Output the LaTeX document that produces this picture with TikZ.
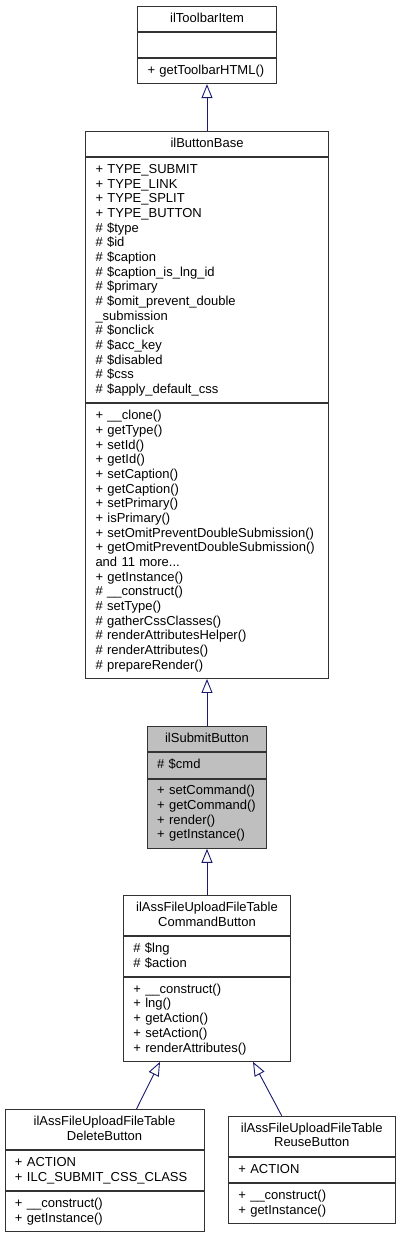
\documentclass[tikz,border=0pt]{standalone}
\usepackage{fontspec}
\setmainfont{Liberation Sans}
\usepackage{tikz}
\usetikzlibrary{positioning}
\usetikzlibrary{arrows.meta}
\usepackage{xcolor}

\definecolor{edgeblue}{HTML}{191970}
\definecolor{hlgray}{HTML}{BFBFBF}
\newcommand{\umlfont}{\fontsize{13pt}{14.67pt}\selectfont}

\begin{document}
\begin{tikzpicture}[x=1pt, y=-1pt]
        % ================= styles =================
        \tikzset{
            % one compartment of a class box
            umlbox/.style={draw=black!80, line width=0.9pt, fill=white, inner xsep=10pt, inner ysep=0pt, font=\umlfont, align=left, text height=9.8pt},
            % compartment with #1 lines of text
            nlines/.style={minimum height={#1*14.67pt+10.7pt}, text depth={(#1-1)*14.67pt+3.2pt}},
            % class name compartment
            classname/.style={umlbox, align=center},
            % highlighted class
            hl/.style={fill=hlgray},
            % inheritance arrow (open triangle)
            inherit/.style={draw=edgeblue, line width=0.9pt, -{Triangle[open, length=14pt, width=11pt]}}
        }

        \useasboundingbox (0,0) rectangle (400,1235);

        % ================= ilToolbarItem =================
        \node[classname, nlines=1, text width=119pt, anchor=north] (toolbar) at (207,5.7) {ilToolbarItem};
        \node[umlbox, minimum height=25pt, text width=119pt, below=0pt of toolbar] (toolbar-a) {};
        \node[umlbox, nlines=1, text width=119pt, below=0pt of toolbar-a] (toolbar-m) {+ getToolbarHTML()};

        % ================= ilButtonBase =================
        \node[classname, nlines=1, text width=223pt, anchor=north] (button) at (207,130.7) {ilButtonBase};
        \node[umlbox, nlines=16, text width=223pt, below=0pt of button] (button-a) {+ TYPE\_SUBMIT\\+ TYPE\_LINK\\+ TYPE\_SPLIT\\+ TYPE\_BUTTON\\\# \$type\\\# \$id\\\# \$caption\\\# \$caption\_is\_lng\_id\\\# \$primary\\\# \$omit\_prevent\_double\\\_submission\\\# \$onclick\\\# \$acc\_key\\\# \$disabled\\\# \$css\\\# \$apply\_default\_css};
        \node[umlbox, nlines=18, text width=223pt, below=0pt of button-a] (button-m) {+ \_\_clone()\\+ getType()\\+ setId()\\+ getId()\\+ setCaption()\\+ getCaption()\\+ setPrimary()\\+ isPrimary()\\+ setOmitPreventDoubleSubmission()\\+ getOmitPreventDoubleSubmission()\\and 11 more...\\+ getInstance()\\\# \_\_construct()\\\# setType()\\\# gatherCssClasses()\\\# renderAttributesHelper()\\\# renderAttributes()\\\# prepareRender()};

        % ================= ilSubmitButton (highlighted) =================
        \node[classname, hl, nlines=1, text width=99.7pt, anchor=north] (submit) at (207,726) {ilSubmitButton};
        \node[umlbox, hl, nlines=1, text width=99.7pt, below=0pt of submit] (submit-a) {\# \$cmd};
        \node[umlbox, hl, nlines=4, text width=99.7pt, below=0pt of submit-a] (submit-m) {+ setCommand()\\+ getCommand()\\+ render()\\+ getInstance()};

        % ================= ilAssFileUploadFileTableCommandButton =================
        \node[classname, nlines=2, text width=147.3pt, anchor=north] (cmd) at (207,895) {ilAssFileUploadFileTable\\CommandButton};
        \node[umlbox, nlines=2, text width=147.3pt, below=0pt of cmd] (cmd-a) {\# \$lng\\\# \$action};
        \node[umlbox, nlines=5, text width=147.3pt, below=0pt of cmd-a] (cmd-m) {+ \_\_construct()\\+ lng()\\+ getAction()\\+ setAction()\\+ renderAttributes()};

        % ================= DeleteButton / ReuseButton =================
        \node[classname, nlines=2, text width=179pt, anchor=north] (del) at (104.5,1109) {ilAssFileUploadFileTable\\DeleteButton};
        \node[umlbox, nlines=2, text width=179pt, below=0pt of del] (del-a) {+ ACTION\\+ ILC\_SUBMIT\_CSS\_CLASS};
        \node[umlbox, nlines=2, text width=179pt, below=0pt of del-a] (del-m) {+ \_\_construct()\\+ getInstance()};

        \node[classname, nlines=2, text width=146.7pt, anchor=north] (reuse) at (311.7,1115.7) {ilAssFileUploadFileTable\\ReuseButton};
        \node[umlbox, nlines=1, text width=146.7pt, below=0pt of reuse] (reuse-a) {+ ACTION};
        \node[umlbox, nlines=2, text width=146.7pt, below=0pt of reuse-a] (reuse-m) {+ \_\_construct()\\+ getInstance()};

        % ================= inheritance =================
        \draw[inherit] (button) -- (toolbar-m);
        \draw[inherit] (submit) -- (button-m);
        \draw[inherit] (cmd) -- (submit-m);
        \draw[inherit] ([xshift=32pt]del.north) -- ([xshift=-47pt]cmd-m.south);
        \draw[inherit] ([xshift=-30pt]reuse.north) -- ([xshift=46pt]cmd-m.south);

    \end{tikzpicture}
\end{document}
